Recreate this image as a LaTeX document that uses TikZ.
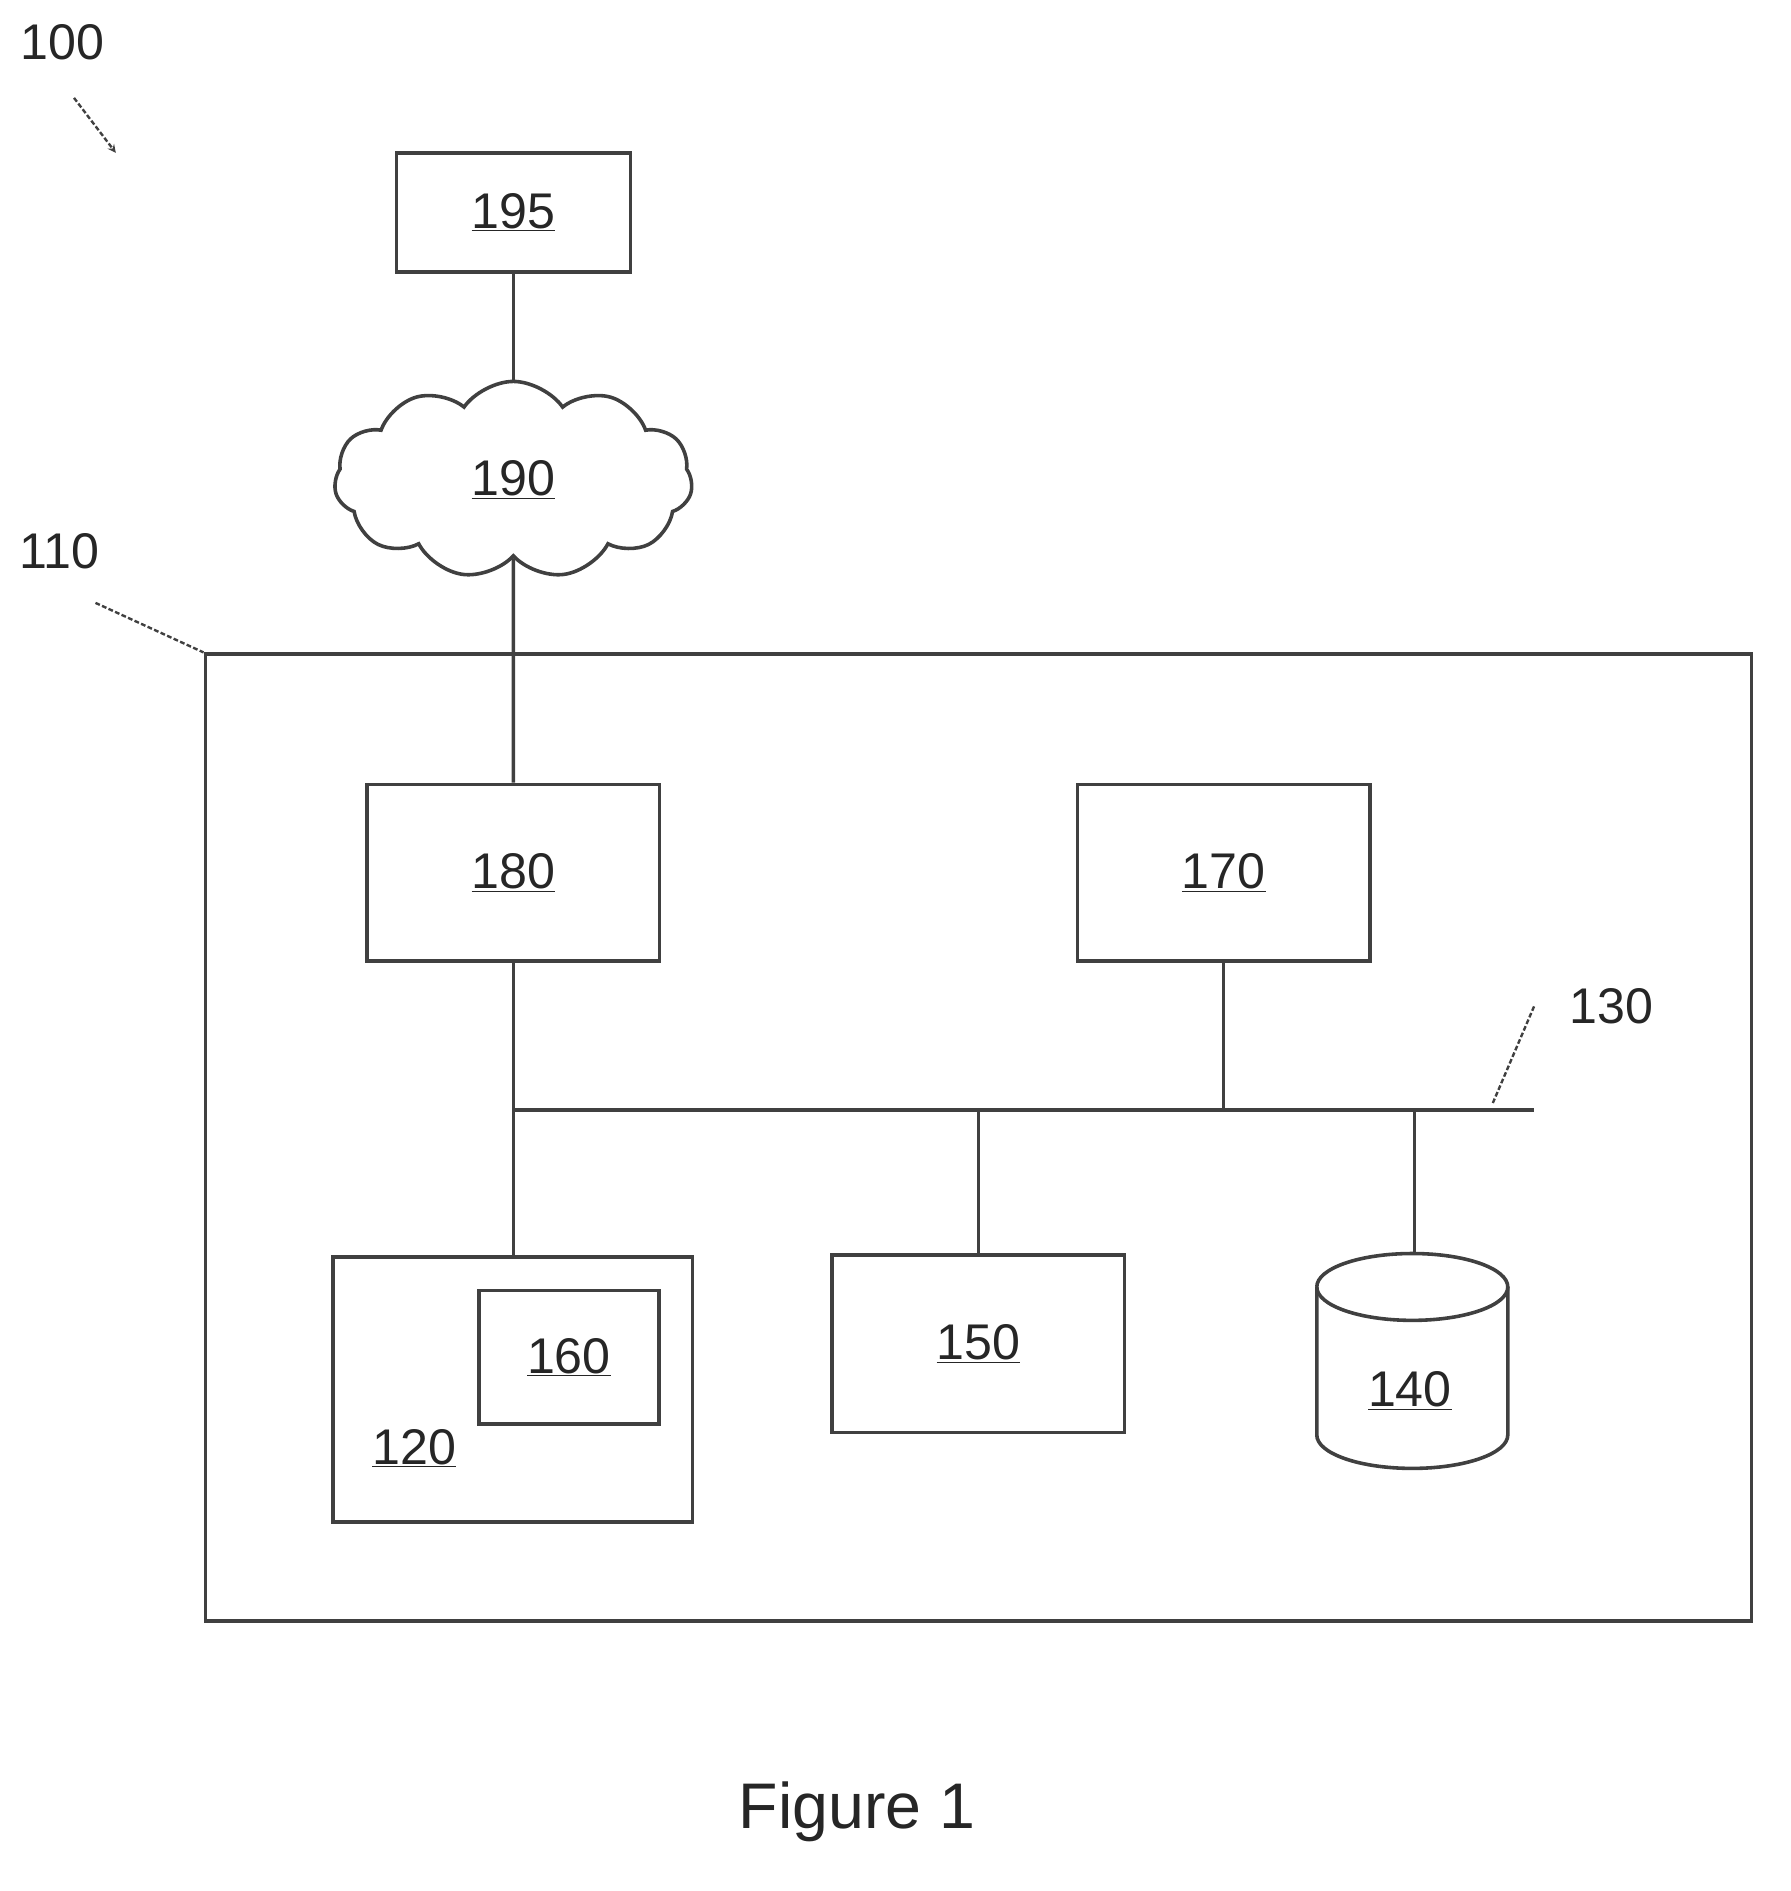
\documentclass[tikz,border=0pt]{standalone}
\usepackage{fontspec}
\setmainfont{Liberation Sans}
\usetikzlibrary{shapes.symbols,shapes.geometric}
\begin{document}
\begin{tikzpicture}[x=1pt,y=-1pt,
  ln/.style={draw=black!75,line width=3pt},
  box/.style={ln,rectangle,inner sep=0pt},
  lbl/.style={font=\fontsize{42}{44}\selectfont,text=black!85}]
\useasboundingbox (0,0) rectangle (1500,1584);
\node[lbl] (l100) at (52,35) {100};
\coordinate (a1) at (62,82); \coordinate (a2) at (97,128);
\draw[line width=2pt,black!75,-stealth,dash pattern=on 4pt off 2pt] (a1) -- (a2);
\node[box,minimum width=196,minimum height=100] (n195) at (430,178) {};
\node[lbl] at (n195) {\underline{195}};
\node[ln,cloud,cloud puffs=11,cloud puff arc=110,aspect=1.8,minimum width=300,minimum height=165] (n190) at (430,402) {};
\node[lbl] at (n190) {\underline{190}};
\node[box,minimum width=1295,minimum height=810] (n110) at (819.5,953) {};
\node[lbl] (l110) at (50,462) {110};
\coordinate (b1) at (80,505);
\draw[line width=2pt,black!75,dash pattern=on 4pt off 2pt] (b1) -- (n110.north west);
\node[box,minimum width=245,minimum height=148] (n180) at (430,731) {};
\node[lbl] at (n180) {\underline{180}};
\node[box,minimum width=245,minimum height=148] (n170) at (1025,731) {};
\node[lbl] at (n170) {\underline{170}};
\coordinate (busL) at (430,930); \coordinate (busR) at (1285,930);
\draw[ln] (busL) -- (busR);
\node[lbl] (l130) at (1350,843) {130};
\coordinate (c1) at (1285,843); \coordinate (c2) at (1250,925);
\draw[line width=2pt,black!75,dash pattern=on 4pt off 2pt] (c1) -- (c2);
\node[box,minimum width=301,minimum height=222] (n120) at (429.5,1164) {};
\node[box,minimum width=151,minimum height=112] (n160) at (476.5,1137) {};
\node[lbl] at (n160) {\underline{160}};
\node[lbl] at (347,1213) {\underline{120}};
\node[box,minimum width=245,minimum height=149] (n150) at (819.5,1125.5) {};
\node[lbl] at (n150) {\underline{150}};
% cylinder 140
\coordinate (n140top) at (1185,1050);
\draw[ln] (1103,1078) arc[x radius=80,y radius=28,start angle=180,end angle=-180];
\draw[ln] (1103,1078) -- (1103,1202) arc[x radius=80,y radius=28,start angle=180,end angle=0] -- (1263,1078);
\node[lbl] (n140) at (1181,1165) {\underline{140}};
\draw[ln] (n195.south) -- (n190.north);
\draw[ln] (n190.south) -- (n180.north);
\draw[ln] (n180.south) -- (n120.north -| n180.south);
\draw[ln] (n170.south) -- (n170.south |- busL);
\draw[ln] (n150.north |- busL) -- (n150.north);
\draw[ln] (n140top |- busL) -- (n140top);
\node[font=\fontsize{54}{58}\selectfont,text=black!85] (fig) at (718,1518) {Figure 1};
\end{tikzpicture}
\end{document}
